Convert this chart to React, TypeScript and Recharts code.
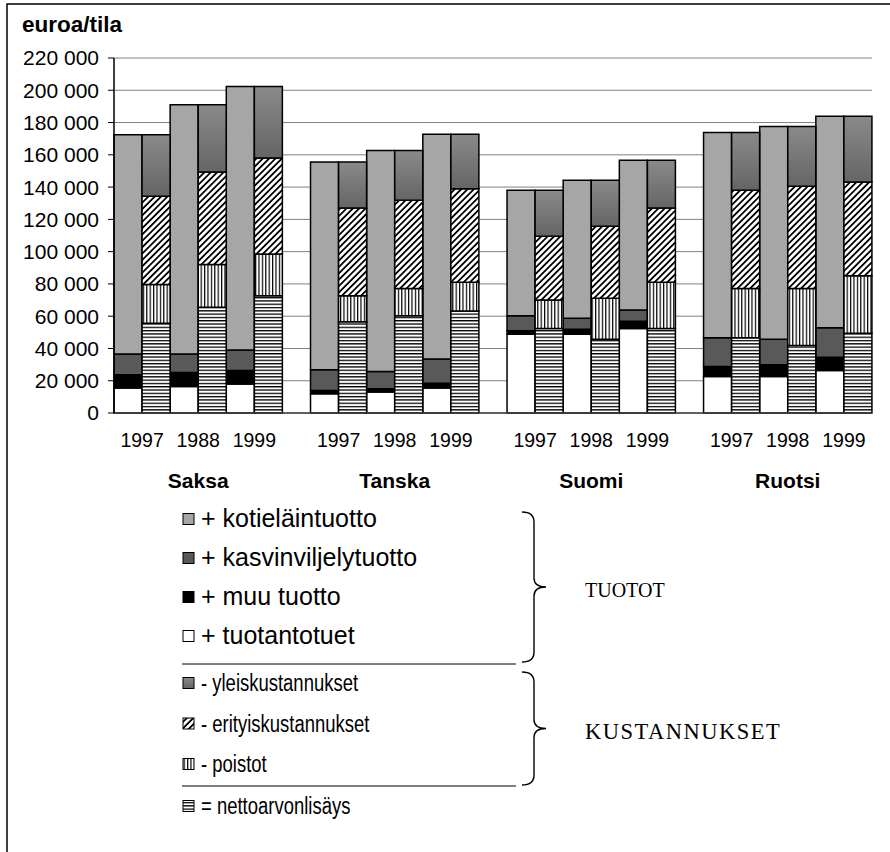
import React from "react";
import { BarChart, Bar, XAxis, YAxis, CartesianGrid } from "recharts";

const FONT = "'Liberation Sans', Arial, sans-serif";
const SERIF = "'Liberation Serif', 'Times New Roman', serif";

const countries = ["Saksa", "Tanska", "Suomi", "Ruotsi"];
const yearLabels = [
  ["1997", "1988", "1999"],
  ["1997", "1998", "1999"],
  ["1997", "1998", "1999"],
  ["1997", "1998", "1999"],
];

// tuotot (euroa/tila), maa kerrallaan, kolme vuotta kullekin
const tuotantotuet = [15500, 16400, 17900, 11900, 13000, 15500, 48800, 48800, 52300, 22600, 22600, 26300];
const muuTuotto = [8200, 8700, 8400, 2100, 2000, 3000, 2100, 3100, 4600, 6200, 7300, 8300];
const kasvinviljelytuotto = [12900, 11400, 12800, 12800, 10700, 14900, 9400, 6800, 6900, 17900, 15800, 18300];
const kotielaintuotto = [135800, 154500, 163200, 128700, 137000, 139400, 77700, 85500, 92800, 127200, 131900, 131000];

// kustannukset ja nettoarvonlisäys samassa järjestyksessä
const nettoarvonlisays = [55600, 65500, 72700, 56600, 60300, 63200, 52300, 45700, 52300, 46700, 41800, 49400];
const poistot = [24100, 26600, 25800, 16100, 16900, 17900, 17700, 25400, 28700, 30500, 35400, 35600];
const erityiskustannukset = [54600, 57200, 59500, 54400, 54600, 57900, 39600, 44700, 46100, 60800, 63300, 58100];
const yleiskustannukset = [38100, 41700, 44300, 28400, 30900, 33800, 28400, 28400, 29500, 35900, 37100, 40800];

const yTicks = [0, 20000, 40000, 60000, 80000, 100000, 120000, 140000, 160000, 180000, 200000, 220000];

const series = [
  { key: "tuotantotuet", name: "+ tuotantotuet", fill: "#ffffff" },
  { key: "muuTuotto", name: "+ muu tuotto", fill: "#000000" },
  { key: "kasvinviljelytuotto", name: "+ kasvinviljelytuotto", fill: "#595959" },
  { key: "kotielaintuotto", name: "+ kotieläintuotto", fill: "#a6a6a6" },
  { key: "nettoarvonlisays", name: "= nettoarvonlisäys", fill: "url(#vaaka)" },
  { key: "poistot", name: "- poistot", fill: "url(#pysty)" },
  { key: "erityiskustannukset", name: "- erityiskustannukset", fill: "url(#vino)" },
  { key: "yleiskustannukset", name: "- yleiskustannukset", fill: "url(#liukuva)" },
];

const legendTuotot = ["kotielaintuotto", "kasvinviljelytuotto", "muuTuotto", "tuotantotuet"];
const legendKustannukset = ["yleiskustannukset", "erityiskustannukset", "poistot"];
const legendTulos = "nettoarvonlisays";

// one row per bar: income bar, cost bar, and an empty slot between countries
type Row = { key: string; year?: string; country?: string; [k: string]: string | number | undefined };
const rows: Row[] = [];
countries.forEach((country, g) => {
  yearLabels[g].forEach((year, j) => {
    const i = g * 3 + j;
    rows.push({
      key: `${country}-${j}-tuotot`,
      tuotantotuet: tuotantotuet[i],
      muuTuotto: muuTuotto[i],
      kasvinviljelytuotto: kasvinviljelytuotto[i],
      kotielaintuotto: kotielaintuotto[i],
    });
    rows.push({
      key: `${country}-${j}-kustannukset`,
      year,
      country: j === 1 ? country : undefined,
      nettoarvonlisays: nettoarvonlisays[i],
      poistot: poistot[i],
      erityiskustannukset: erityiskustannukset[i],
      yleiskustannukset: yleiskustannukset[i],
    });
  });
  if (g < countries.length - 1) rows.push({ key: `vali-${g}` });
});

const WIDTH = 890;
const HEIGHT = 852;
const MARGIN = { top: 58, right: 18, bottom: 359, left: 0 };
const Y_AXIS_W = 114;
const BAND = (WIDTH - MARGIN.right - MARGIN.left - Y_AXIS_W) / rows.length;

const fmt = (v: number) => String(v).replace(/\B(?=(\d{3})+(?!\d))/g, " ");

// year under each bar pair, country name under the middle pair
const PairTick = (props: any) => {
  const { x, y, payload } = props;
  const row = rows.find((r) => r.key === payload.value);
  if (!row || !row.year) return <g />;
  const cx = x - BAND / 2;
  return (
    <g>
      <text x={cx} y={y + 33.5} textAnchor="middle" fontSize={19.5} fontFamily={FONT} fill="#000">
        {row.year}
      </text>
      {row.country && (
        <text x={cx} y={y + 75} textAnchor="middle" fontSize={21} fontWeight="bold" fontFamily={FONT} fill="#000">
          {row.country}
        </text>
      )}
    </g>
  );
};

const fillOf = (key: string) => series.find((s) => s.key === key)!.fill;
const nameOf = (key: string) => series.find((s) => s.key === key)!.name;

const Swatch = ({ k, base }: { k: string; base: number }) => (
  <rect x={183} y={base - 13.5} width={11} height={11} fill={fillOf(k)} stroke="#000" strokeWidth={1} />
);

const Brace = ({ top, bottom }: { top: number; bottom: number }) => {
  const mid = (top + bottom) / 2;
  const d = `M 522 ${top} Q 534 ${top} 534 ${top + 10} L 534 ${mid - 9} Q 534 ${mid} 546 ${mid} Q 534 ${mid} 534 ${mid + 9} L 534 ${bottom - 10} Q 534 ${bottom} 522 ${bottom}`;
  return <path d={d} fill="none" stroke="#000" strokeWidth={1.4} />;
};

const LegendBlock = () => (
  <svg width={WIDTH} height={HEIGHT} style={{ position: "absolute", left: 0, top: 0, pointerEvents: "none" }}>
    <path d={`M 7 ${HEIGHT} L 7 4 L ${WIDTH} 4`} fill="none" stroke="#000" strokeWidth={1.5} />
    <text x={22} y={31.5} fontSize={22.5} fontWeight="bold" fontFamily={FONT} fill="#000">
      euroa/tila
    </text>

    {legendTuotot.map((k, i) => {
      const base = 527 + i * 39;
      return (
        <g key={k}>
          <Swatch k={k} base={base} />
          <text x={201} y={base} fontSize={25} fontFamily={FONT} fill="#000">
            {nameOf(k)}
          </text>
        </g>
      );
    })}
    <line x1={182} y1={664} x2={516} y2={664} stroke="#000" strokeWidth={1} />
    {legendKustannukset.map((k, i) => {
      const base = 691 + i * 40.5;
      return (
        <g key={k}>
          <Swatch k={k} base={base} />
          <text transform={`translate(201 ${base}) scale(0.77 1)`} fontSize={24} fontFamily={FONT} fill="#000">
            {nameOf(k)}
          </text>
        </g>
      );
    })}
    <line x1={182} y1={786} x2={516} y2={786} stroke="#000" strokeWidth={1} />
    <Swatch k={legendTulos} base={814} />
    <text transform="translate(201 814) scale(0.77 1)" fontSize={24} fontFamily={FONT} fill="#000">
      {nameOf(legendTulos)}
    </text>

    <Brace top={512} bottom={662} />
    <Brace top={672} bottom={785} />
    <text x={585} y={597} fontSize={20} fontFamily={SERIF} fill="#000">
      TUOTOT
    </text>
    <text x={585} y={739} fontSize={22.5} letterSpacing={1.5} fontFamily={SERIF} fill="#000">
      KUSTANNUKSET
    </text>
  </svg>
);

export default function App() {
  return (
    <div style={{ position: "absolute", left: 0, top: 0, width: WIDTH, height: HEIGHT, background: "#fff" }}>
      <svg width={0} height={0} style={{ position: "absolute" }}>
        <defs>
          <pattern id="vaaka" patternUnits="userSpaceOnUse" width={6} height={3.3}>
            <rect width={6} height={3.3} fill="#fff" />
            <rect width={6} height={1.3} fill="#000" />
          </pattern>
          <pattern id="pysty" patternUnits="userSpaceOnUse" width={3.4} height={6}>
            <rect width={3.4} height={6} fill="#fff" />
            <rect width={1.2} height={6} fill="#000" />
          </pattern>
          <pattern id="vino" patternUnits="userSpaceOnUse" width={4.5} height={4.5} patternTransform="rotate(45)">
            <rect width={4.5} height={4.5} fill="#fff" />
            <rect width={1.8} height={4.5} fill="#000" />
          </pattern>
          <linearGradient id="liukuva" x1="0" y1="0" x2="0" y2="1">
            <stop offset="0" stopColor="#8a8a8a" />
            <stop offset="1" stopColor="#656565" />
          </linearGradient>
        </defs>
      </svg>
      <BarChart width={WIDTH} height={HEIGHT} data={rows} margin={MARGIN} barCategoryGap={0} barGap={0}>
        <CartesianGrid vertical={false} stroke="#808080" strokeWidth={1} />
        <XAxis
          dataKey="key"
          interval={0}
          tickLine={false}
          tickSize={0}
          tickMargin={0}
          height={80}
          axisLine={{ stroke: "#404040", strokeWidth: 1.5 }}
          tick={<PairTick />}
        />
        <YAxis
          width={Y_AXIS_W}
          domain={[0, 220000]}
          ticks={yTicks}
          interval={0}
          tickFormatter={fmt}
          tickSize={6}
          tickMargin={9}
          axisLine={{ stroke: "#000", strokeWidth: 1.5 }}
          tickLine={{ stroke: "#000" }}
          tick={{ fill: "#000", fontSize: 21, fontFamily: FONT }}
        />
        <YAxis
          yAxisId="reuna"
          orientation="right"
          width={0}
          domain={[0, 220000]}
          tick={false}
          tickLine={false}
          axisLine={{ stroke: "#a0a0a0", strokeWidth: 1.5 }}
        />
        {series.map((s) => (
          <Bar
            key={s.key}
            dataKey={s.key}
            name={s.name}
            stackId="pino"
            fill={s.fill}
            stroke="#000"
            strokeWidth={1.5}
            isAnimationActive={false}
          />
        ))}
      </BarChart>
      <LegendBlock />
    </div>
  );
}
